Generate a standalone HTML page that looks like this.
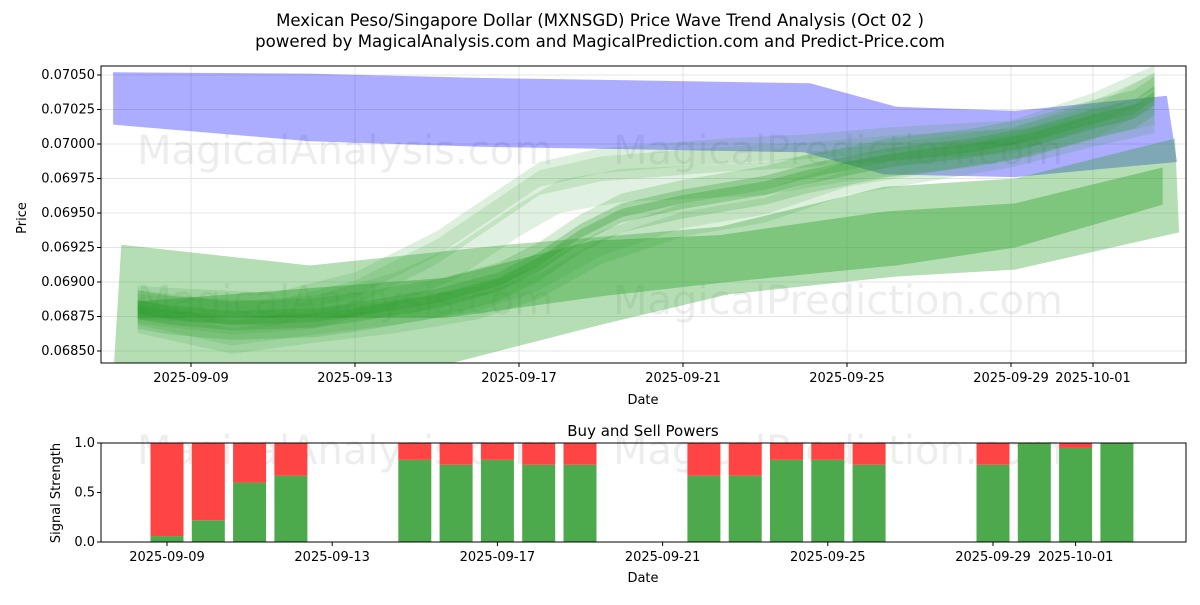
<!DOCTYPE html>
<html><head><meta charset="utf-8"><style>
body{margin:0;background:#fff;font-family:"Liberation Sans","DejaVu Sans",sans-serif}
svg text{font-family:"DejaVu Sans","Liberation Sans",sans-serif}
</style></head><body>
<svg id="c" width="1200" height="600" viewBox="0 0 1200 600">
<text x="600" y="26" font-size="16.6" text-anchor="middle">Mexican Peso/Singapore Dollar (MXNSGD) Price Wave Trend Analysis (Oct 02 )</text>
<text x="600" y="47" font-size="16.6" text-anchor="middle">powered by MagicalAnalysis.com and MagicalPrediction.com and Predict-Price.com</text>
<g id="main"></g>
<g id="sub"></g>
</svg>
<script>
const tickDates=["2025-09-09","2025-09-13","2025-09-17","2025-09-21","2025-09-25","2025-09-29","2025-10-01"];
const tickDays=[0,4,8,12,16,20,22];
const yTicks=[0.0685,0.06875,0.069,0.06925,0.0695,0.06975,0.07,0.07025,0.0705];
const blueTopD=[-1.9,2.9,6.9,15.1,17.2,20.1,23.8];
const blueTopV=[0.07052,0.07051,0.07048,0.07044,0.07027,0.07024,0.07035];
const blueBotD=[-1.9,2.9,7.05,14.95,16.9,20.1,24.05];
const blueBotV=[0.07014,0.07002,0.06998,0.06994,0.06978,0.06976,0.06987];
const lightTopD=[-1.7,2.9,7.7,12.9,16.9,20.1,24];
const lightTopV=[0.06927,0.06912,0.06927,0.0694,0.06969,0.06975,0.07004];
const lightBotD=[-1.9,6.2,10,13.1,17.2,20.1,24.1];
const lightBotV=[0.0683,0.0684,0.06869,0.06891,0.06904,0.06909,0.06936];
const darkTopD=[-1.3,6.2,9.8,12.9,16.9,20.1,23.7];
const darkTopV=[0.06886,0.06903,0.0693,0.06934,0.06951,0.06957,0.06983];
const darkBotD=[-1.3,6.2,10.1,13.1,17.2,20.1,23.7];
const darkBotV=[0.06874,0.06874,0.0689,0.069,0.06912,0.06925,0.06956];
const mainD=[-1.3,-0.5,1,3,4,6,7.5,8.5,9.5,10.5,12,14,15,17,19,20.5,22,23,23.5];
const mainV=[0.0688,0.06876,0.06872,0.06874,0.06878,0.06888,0.069,0.06915,0.06935,0.0695,0.0696,0.0697,0.06978,0.0699,0.06997,0.07005,0.07018,0.07025,0.07035];
const upD=[-1.3,2,4,6,7.5,8.5,10,13,15,17,20,22,23.5];
const upV=[0.06885,0.0688,0.06895,0.06925,0.06955,0.06975,0.06985,0.06992,0.06995,0.07,0.07005,0.07025,0.07045];
const midD=[-1.3,1,3,5,6.5,8,9,10.5,12,14,16,18,20,22,23.5];
const midV=[0.06882,0.06874,0.06878,0.06895,0.06915,0.06945,0.06962,0.0697,0.06972,0.06975,0.06985,0.06992,0.07,0.07015,0.0704];
const loD=[-1.3,1,3,5,7,8.5,10,12,14,16,18,20,22,23.5];
const loV=[0.06875,0.0686,0.06868,0.06875,0.06885,0.069,0.06925,0.06945,0.06955,0.06975,0.06985,0.06995,0.0701,0.0702];
const barDays=[0,1,2,3,6,7,8,9,10,13,14,15,16,17,20,21,22,23];
const buyVals=[0.06,0.22,0.6,0.67,0.83,0.78,0.83,0.78,0.78,0.67,0.67,0.83,0.83,0.78,0.78,1.0,0.95,1.0];
const sTicks=[0,0.5,1];

const NS="http://www.w3.org/2000/svg";
function mk(p,t,a){const e=document.createElementNS(NS,t);for(const k in a)e.setAttribute(k,a[k]);p.appendChild(e);return e;}
const X=d=>191+41*d, Y=v=>75+(0.0705-v)*138000;
const X2=d=>167+41.3*d, Y2=v=>542-99*v;
const M=document.getElementById('main'), S=document.getElementById('sub');
const L=101,R=1186,T=66,B=363;
const defs=mk(M,'defs',{});const cp=mk(defs,'clipPath',{id:'cl'});mk(cp,'rect',{x:L,y:T,width:R-L,height:B-T});
tickDays.forEach(d=>{const g=mk(M,'line',{x1:X(d),x2:X(d),y1:T,y2:B,stroke:'#ddd','stroke-width':0.8});

});
yTicks.forEach(v=>{const g=mk(M,'line',{x1:L,x2:R,y1:Y(v),y2:Y(v),stroke:'#ddd','stroke-width':0.8});

});
[[345,150],[838,150],[345,300],[838,300]].forEach((p,i)=>{const t=mk(M,'text',{x:p[0],y:p[1]+14,'font-size':40,fill:'#000','fill-opacity':0.07,'text-anchor':'middle'});t.textContent=i%2?'MagicalPrediction.com':'MagicalAnalysis.com';

});
const G=mk(M,'g',{'clip-path':'url(#cl)'});
function band(td,tv,bd,bv,fill,op,name){let pts=td.map((d,i)=>X(d)+','+Y(tv[i]));for(let i=bd.length-1;i>=0;i--)pts.push(X(bd[i])+','+Y(bv[i]));
const p=mk(G,'polygon',{points:pts.join(' '),fill:fill,'fill-opacity':op});

}
band(blueTopD,blueTopV,blueBotD,blueBotV,'#0000ff',0.32,'blue-band');
band(lightTopD,lightTopV,lightBotD,lightBotV,'#2ca02c',0.35,'green-outer-band');
band(darkTopD,darkTopV,darkBotD,darkBotV,'#2ca02c',0.4,'green-inner-band');
function wave(D,V,w,op,name){band(D,V.map(v=>v+w),D,V.map(v=>v-w),'#2a9a2a',op,name);}
wave(upD,upV,0.00012,0.16,'wave-upper');
wave(upD,upV,0.00006,0.14,'wave-upper-core');
wave(midD,midV,0.00012,0.14,'wave-mid');
wave(loD,loV,0.00012,0.16,'wave-lower');
wave(loD,loV,0.00006,0.14,'wave-lower-core');
wave(mainD,mainV,0.00014,0.2,'wave-main');
wave(mainD,mainV,0.00007,0.28,'wave-main-core');
wave(mainD,mainV,0.00003,0.3,'wave-main-center');
mk(M,'rect',{x:L,y:T,width:R-L,height:B-T,fill:'none',stroke:'#000','stroke-width':1});
tickDays.forEach((d,i)=>{mk(M,'line',{x1:X(d),x2:X(d),y1:B,y2:B+4,stroke:'#000'});
const t=mk(M,'text',{x:X(d),y:B+19,'font-size':13,'text-anchor':'middle'});t.textContent=tickDates[i];

});
yTicks.forEach(v=>{mk(M,'line',{x1:L-4,x2:L,y1:Y(v),y2:Y(v),stroke:'#000'});
const t=mk(M,'text',{x:L-6,y:Y(v)+4,'font-size':13,'text-anchor':'end'});t.textContent=v.toFixed(5);

});
let t=mk(M,'text',{x:643,y:404,'font-size':13,'text-anchor':'middle'});t.textContent='Date';


t=mk(M,'text',{x:26,y:218,'font-size':13,'text-anchor':'middle',transform:'rotate(-90 26 218)'});t.textContent='Price';


const sT=443,sB=542;
[[345,450],[838,450]].forEach((p,i)=>{const w=mk(S,'text',{x:p[0],y:p[1]+14,'font-size':40,fill:'#000','fill-opacity':0.07,'text-anchor':'middle'});w.textContent=i?'MagicalPrediction.com':'MagicalAnalysis.com';

});
barDays.forEach((d,i)=>{const x=X2(d)-16.5,b=buyVals[i];
const g=mk(S,'rect',{x:x,y:Y2(b),width:33,height:Y2(0)-Y2(b),fill:'#4caa4c'});


const r=mk(S,'rect',{x:x,y:Y2(1),width:33,height:Y2(b)-Y2(1),fill:'#ff4444'});

});
mk(S,'rect',{x:L,y:sT,width:R-L,height:sB-sT,fill:'none',stroke:'#000'});
tickDays.forEach((d,i)=>{mk(S,'line',{x1:X2(d),x2:X2(d),y1:sB,y2:sB+4,stroke:'#000'});
const s=mk(S,'text',{x:X2(d),y:sB+19,'font-size':13,'text-anchor':'middle'});s.textContent=tickDates[i];

});
sTicks.forEach(v=>{mk(S,'line',{x1:L-4,x2:L,y1:Y2(v),y2:Y2(v),stroke:'#000'});
const s=mk(S,'text',{x:L-6,y:Y2(v)+4,'font-size':13,'text-anchor':'end'});s.textContent=v.toFixed(1);

});
t=mk(S,'text',{x:643,y:436,'font-size':15,'text-anchor':'middle'});t.textContent='Buy and Sell Powers';


t=mk(S,'text',{x:643,y:582,'font-size':13,'text-anchor':'middle'});t.textContent='Date';


t=mk(S,'text',{x:60,y:493,'font-size':13,'text-anchor':'middle',transform:'rotate(-90 60 493)'});t.textContent='Signal Strength';


</script>
</body></html>
